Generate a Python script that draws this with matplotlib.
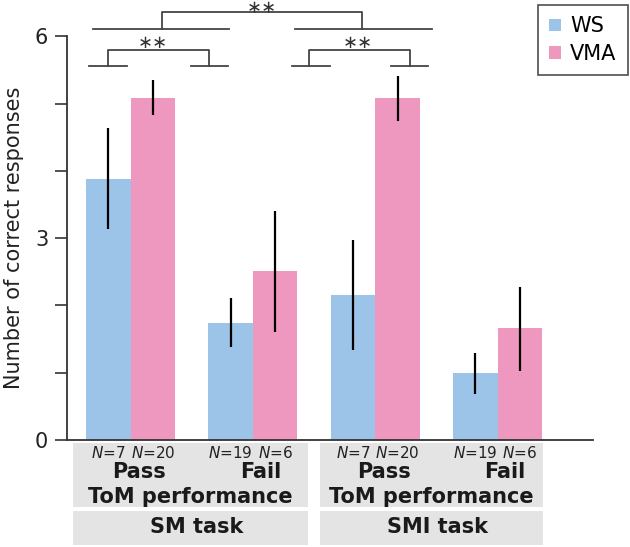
import matplotlib
matplotlib.use('Agg')
import matplotlib.pyplot as plt
import matplotlib.transforms as mtransforms
from matplotlib.patches import Rectangle
import numpy as np

# Data
groups = ['SM Pass', 'SM Fail', 'SMI Pass', 'SMI Fail']
ws_mean = [3.88, 1.74, 2.16, 0.99]
ws_lo = [3.14, 1.38, 1.34, 0.69]
ws_hi = [4.64, 2.11, 2.97, 1.30]
vma_mean = [5.08, 2.51, 5.08, 1.66]
vma_lo = [4.83, 1.60, 4.75, 1.03]
vma_hi = [5.36, 3.41, 5.41, 2.28]
ws_n = ['7', '19', '7', '19']
vma_n = ['20', '6', '20', '6']
tom_labels = ['Pass', 'Fail', 'Pass', 'Fail']
task_labels = ['SM task', 'SMI task']

ws_color = '#9cc3e8'
vma_color = '#ee97bf'
box_color = '#e4e4e4'
line_color = '#333333'

plt.rcParams['font.family'] = ['DejaVu Sans']

fig = plt.figure(figsize=(6.3, 5.47), dpi=100)
ax = fig.add_axes([0.1063, 0.1956, 0.8350, 0.7992])

x = np.arange(len(groups))
w = 0.364

ax.bar(x - w / 2, ws_mean, w, color=ws_color, label='WS', zorder=2)
ax.bar(x + w / 2, vma_mean, w, color=vma_color, label='VMA', zorder=2)
ax.vlines(x - w / 2, ws_lo, ws_hi, color='black', linewidth=1.6, zorder=3)
ax.vlines(x + w / 2, vma_lo, vma_hi, color='black', linewidth=1.6, zorder=3)

ax.set_xlim(-0.52, 3.78)
ax.set_ylim(0, 6.5)
ax.spines['top'].set_visible(False)
ax.spines['right'].set_visible(False)
ax.spines['left'].set_bounds(0, 6)
for s in ['left', 'bottom']:
    ax.spines[s].set_color(line_color)
    ax.spines[s].set_linewidth(1.3)
ax.set_xticks([])
ax.set_yticks(range(7))
ax.set_yticklabels(['0', '', '', '3', '', '', '6'], fontsize=15, color='#222222')
ax.tick_params(axis='y', length=8.5, width=1.2, color=line_color, pad=5)
ax.set_ylabel('Number of correct responses', fontsize=15, color='#222222')
ax.yaxis.set_label_coords(-0.082, 3 / 6.5)

# significance brackets: left foot, right foot, left arm x, right arm x, foot y, top y, star x, star y
brackets = [
    [(-0.339, -0.033), (0.493, 0.798), -0.188, 0.643, 5.563, 5.797, 0.185, 5.90],
    [(1.321, 1.630), (2.128, 2.433), 1.460, 2.281, 5.563, 5.797, 1.861, 5.90],
    [(-0.311, 0.806), (1.343, 2.461), 0.253, 1.894, 6.106, 6.359, 1.074, 6.43],
]
for seg1, seg2, xl, xr, yb, yt, sx, sy in brackets:
    ax.plot(seg1, [yb, yb], color='#444444', lw=1.3, clip_on=False)
    ax.plot(seg2, [yb, yb], color='#444444', lw=1.3, clip_on=False)
    ax.plot([xl, xl, xr, xr], [yb, yt, yt, yb], color='#444444', lw=1.3, clip_on=False)
    ax.text(sx, sy, '\u2217\u2217', ha='center', va='center', fontsize=13, color='#333333')

# bottom category boxes
trans = mtransforms.blended_transform_factory(ax.transData, fig.transFigure)
box_x = [(-0.474, 1.452), (1.548, 3.369)]
for (x0, x1), task in zip(box_x, task_labels):
    fig.patches.append(Rectangle((x0, 0.0726), x1 - x0, 0.117, transform=trans,
                                 facecolor=box_color, edgecolor='none', zorder=-1))
    fig.patches.append(Rectangle((x0, 0.0037), x1 - x0, 0.0627, transform=trans,
                                 facecolor=box_color, edgecolor='none', zorder=-1))
    ax.text((x0 + x1) / 2 + 0.05, 0.036, task, transform=trans, ha='center', va='center',
            fontsize=15, fontweight='bold', color='#1a1a1a')
    ax.text((x0 + x1) / 2, 0.092, 'ToM performance', transform=trans, ha='center', va='center',
            fontsize=15, fontweight='bold', color='#1a1a1a')

for i in range(len(groups)):
    ax.text(x[i] - w / 2, 0.1724, '$N$=' + ws_n[i], transform=trans, ha='center', va='center',
            fontsize=11, color='#222222')
    ax.text(x[i] + w / 2, 0.1724, '$N$=' + vma_n[i], transform=trans, ha='center', va='center',
            fontsize=11, color='#222222')
    off = 0.07 if tom_labels[i] == 'Pass' else 0.06
    ax.text(x[i] + off, 0.1377, tom_labels[i], transform=trans, ha='center', va='center',
            fontsize=15, fontweight='bold', color='#1a1a1a')

leg = fig.legend(loc='upper right', bbox_to_anchor=(628 / 630, 1 - 5 / 547), borderaxespad=0,
                 fontsize=15, handlelength=0.55, handleheight=0.55, handletextpad=0.45,
                 frameon=True, fancybox=False, borderpad=0.55, labelspacing=0.35)
leg.get_frame().set_edgecolor('#222222')
leg.get_frame().set_linewidth(1.2)

fig.savefig('out.png', dpi=100)
